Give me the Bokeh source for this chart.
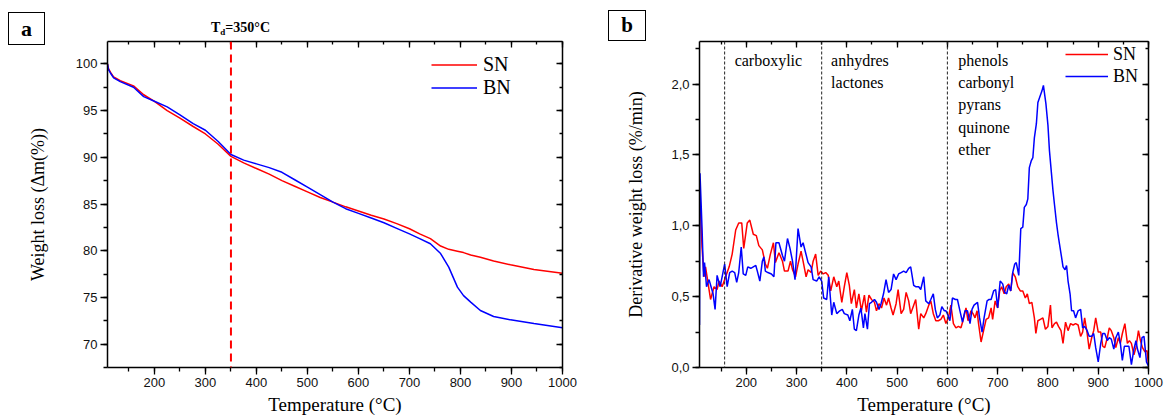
import math
from bokeh.plotting import figure
from bokeh.models import (Range1d, LinearAxis, SingleIntervalTicker, Span, Label, Div,
                          Legend, LegendItem, CustomJSTickFormatter)
from bokeh.layouts import row, column
from bokeh.embed import file_html
from bokeh.resources import INLINE

# ---------------- data: panel a (TGA) ----------------
temp_a = [108, 110, 114, 120, 133, 159, 179, 200, 225, 250, 276, 300, 325, 350, 375,
          400, 425, 450, 475, 500, 525, 550, 575, 600, 625, 650, 675, 700, 720, 741,
          761, 777, 794, 806, 820, 839, 865, 898, 944, 1000]
sn_a = [100.0, 99.5, 99.1, 98.6, 98.2, 97.65, 96.7, 96.0, 95.0, 94.2, 93.3, 92.5, 91.4,
        90.1, 89.4, 88.8, 88.2, 87.5, 86.9, 86.3, 85.7, 85.2, 84.7, 84.25, 83.8, 83.4,
        82.9, 82.35, 81.8, 81.3, 80.5, 80.15, 79.95, 79.8, 79.55, 79.3, 78.9, 78.5,
        78.0, 77.6]
bn_a = [100.0, 99.4, 99.0, 98.5, 98.1, 97.5, 96.5, 96.0, 95.4, 94.55, 93.6, 92.9, 91.7,
        90.3, 89.7, 89.3, 88.9, 88.4, 87.6, 86.8, 86.0, 85.2, 84.5, 84.0, 83.5, 83.0,
        82.4, 81.8, 81.3, 80.75, 79.7, 78.25, 76.1, 75.2, 74.5, 73.6, 72.96, 72.6,
        72.2, 71.75]
td = 350

# ---------------- data: panel b (DTG) ----------------
temp_sn_b = [108, 112, 116, 119, 129, 136, 142, 146, 152, 159, 166, 172, 179, 185, 191,
             195, 202, 207, 214, 220, 225, 232, 238, 242, 248, 254, 258, 265, 272, 276,
             283, 288, 292, 298, 303, 309, 313, 319, 323, 329, 333, 338, 343, 348, 353,
             358, 363, 368, 374, 380, 384, 390, 395, 400, 405, 409, 415, 419, 424, 429,
             435, 439, 444, 449, 455, 459, 464, 469, 474, 479, 483, 488, 492, 498, 502,
             508, 513, 518, 523, 527, 533, 537, 543, 547, 553, 557, 563, 567, 572, 577,
             582, 587, 592, 597, 602, 607, 612, 617, 622, 627, 631, 637, 641, 647, 651,
             655, 659, 662, 667, 672, 677, 682, 687, 690, 695, 700, 704, 708, 713, 717,
             722, 726, 730, 735, 740, 745, 750, 755, 759, 763, 768, 773, 776, 780, 785,
             790, 795, 800, 805, 808, 813, 817, 821, 826, 830, 835, 840, 845, 850, 855,
             860, 865, 869, 873, 878, 882, 887, 891, 895, 900, 905, 909, 913, 918, 922,
             926, 931, 935, 940, 944, 948, 953, 958, 962, 966, 971, 975, 980, 984, 988,
             993, 997, 1000]
sn_b = [1.22, 0.85, 0.64, 0.71, 0.48, 0.57, 0.55, 0.61, 0.57, 0.64, 0.71, 0.80, 0.97, 1.02,
        1.02, 0.84, 1.02, 1.04, 0.94, 0.93, 0.86, 0.83, 0.73, 0.70, 0.80, 0.88, 0.74, 0.81,
        0.75, 0.68, 0.68, 0.75, 0.69, 0.64, 0.73, 0.82, 0.75, 0.64, 0.69, 0.67, 0.75, 0.80,
        0.65, 0.68, 0.66, 0.67, 0.65, 0.54, 0.64, 0.57, 0.61, 0.46, 0.57, 0.67, 0.58, 0.45,
        0.55, 0.42, 0.52, 0.40, 0.51, 0.39, 0.51, 0.48, 0.46, 0.40, 0.45, 0.42, 0.49, 0.44,
        0.49, 0.42, 0.37, 0.45, 0.55, 0.38, 0.41, 0.53, 0.47, 0.38, 0.44, 0.48, 0.27, 0.38,
        0.35, 0.38, 0.44, 0.47, 0.38, 0.33, 0.33, 0.34, 0.37, 0.31, 0.35, 0.44, 0.31, 0.28,
        0.29, 0.28, 0.33, 0.42, 0.33, 0.40, 0.38, 0.35, 0.40, 0.31, 0.18, 0.26, 0.34, 0.35,
        0.42, 0.34, 0.47, 0.42, 0.54, 0.57, 0.52, 0.57, 0.59, 0.54, 0.67, 0.64, 0.57, 0.54,
        0.54, 0.49, 0.52, 0.45, 0.46, 0.35, 0.24, 0.33, 0.34, 0.35, 0.27, 0.29, 0.44, 0.28,
        0.31, 0.32, 0.29, 0.26, 0.17, 0.32, 0.26, 0.31, 0.30, 0.31, 0.30, 0.22, 0.25, 0.35,
        0.24, 0.13, 0.21, 0.26, 0.35, 0.25, 0.25, 0.15, 0.14, 0.21, 0.28, 0.26, 0.21, 0.14,
        0.21, 0.17, 0.24, 0.31, 0.17, 0.19, 0.17, 0.09, 0.14, 0.26, 0.19, 0.14, 0.11, 0.12,
        0.02]
temp_bn_b = [107, 108, 112, 115, 117, 121, 126, 130, 134, 138, 142, 148, 152, 157, 162,
             167, 172, 177, 181, 185, 190, 194, 199, 203, 209, 214, 219, 222, 227, 232,
             235, 238, 243, 250, 255, 259, 265, 272, 276, 282, 287, 292, 297, 303, 309,
             313, 318, 323, 329, 333, 340, 345, 350, 354, 360, 364, 370, 374, 380, 386,
             391, 395, 402, 406, 411, 415, 419, 424, 428, 433, 436, 441, 445, 449, 455,
             459, 464, 468, 473, 478, 483, 488, 493, 498, 503, 508, 513, 518, 523, 527,
             533, 537, 543, 547, 553, 557, 563, 567, 572, 576, 580, 585, 589, 594, 597,
             600, 605, 610, 616, 620, 625, 630, 635, 640, 645, 649, 653, 660, 664, 669,
             673, 679, 683, 687, 692, 696, 700, 705, 710, 714, 718, 722, 726, 730, 734,
             737, 742, 746, 750, 753, 757, 760, 763, 767, 770, 773, 777, 780, 785, 788,
             791, 796, 800, 803, 807, 810, 813, 817, 820, 823, 827, 830, 834, 837, 840,
             844, 847, 851, 855, 860, 865, 869, 873, 878, 882, 887, 891, 895, 900, 905,
             909, 913, 918, 922, 926, 931, 935, 940, 944, 948, 952, 956, 961, 966, 971,
             975, 978, 983, 987, 991, 996, 1000]
bn_b = [0.30, 1.37, 0.99, 0.64, 0.74, 0.57, 0.62, 0.57, 0.52, 0.41, 0.65, 0.57, 0.64, 0.73,
        0.57, 0.67, 0.68, 0.67, 0.60, 0.67, 0.85, 0.66, 0.65, 0.71, 0.70, 0.71, 0.72, 0.68,
        0.61, 0.75, 0.78, 0.68, 0.67, 0.66, 0.64, 0.88, 0.88, 0.79, 0.75, 0.91, 0.84, 0.75,
        0.62, 0.98, 0.85, 0.88, 0.81, 0.74, 0.71, 0.62, 0.61, 0.64, 0.61, 0.49, 0.48, 0.64,
        0.37, 0.46, 0.38, 0.40, 0.41, 0.38, 0.37, 0.33, 0.41, 0.27, 0.26, 0.37, 0.42, 0.28,
        0.38, 0.27, 0.45, 0.46, 0.48, 0.46, 0.41, 0.45, 0.52, 0.62, 0.53, 0.55, 0.66, 0.62,
        0.66, 0.67, 0.68, 0.67, 0.70, 0.71, 0.58, 0.57, 0.57, 0.55, 0.64, 0.47, 0.45, 0.48,
        0.52, 0.41, 0.35, 0.37, 0.43, 0.40, 0.40, 0.38, 0.33, 0.49, 0.48, 0.48, 0.40, 0.32,
        0.40, 0.40, 0.31, 0.41, 0.44, 0.46, 0.35, 0.25, 0.35, 0.47, 0.48, 0.48, 0.54, 0.55,
        0.42, 0.61, 0.59, 0.53, 0.52, 0.58, 0.54, 0.67, 0.73, 0.74, 0.65, 0.98, 0.99, 1.13,
        1.15, 1.19, 1.41, 1.46, 1.48, 1.62, 1.72, 1.87, 1.92, 1.95, 1.99, 1.86, 1.71, 1.53,
        1.37, 1.25, 1.15, 1.02, 0.94, 0.87, 0.78, 0.71, 0.69, 0.72, 0.61, 0.52, 0.40, 0.40,
        0.35, 0.40, 0.41, 0.28, 0.29, 0.26, 0.22, 0.22, 0.24, 0.14, 0.04, 0.17, 0.24, 0.24,
        0.19, 0.21, 0.20, 0.13, 0.21, 0.25, 0.17, 0.05, 0.15, 0.15, 0.15, 0.02, 0.13, 0.19,
        0.13, 0.07, 0.21, 0.22, 0.04, 0.01]
boundaries = [157, 350, 600]
regions = [["carboxylic"], ["anhydres", "lactones"],
           ["phenols", "carbonyl", "pyrans", "quinone", "ether"]]
series_names = ["SN", "BN"]
panel_letters = ["a", "b"]

SERIF = "Liberation Serif"
SANS = "Liberation Sans"
RED = "#ff0000"
BLUE = "#0000ff"


def make_axis(interval, labeled, label="", label_size="19px", label_standoff=0, fmt=None):
    ax = LinearAxis(ticker=SingleIntervalTicker(interval=interval, num_minor_ticks=2))
    ax.axis_line_color = "black"
    ax.axis_line_width = 1.5
    ax.major_tick_line_color = "black"
    ax.major_tick_line_width = 1.3
    ax.minor_tick_line_color = "black"
    ax.minor_tick_line_width = 1.3
    if labeled:
        ax.major_tick_out = 7
        ax.major_tick_in = 0
        ax.minor_tick_out = 4
        ax.minor_tick_in = 0
        ax.major_label_text_font = SANS
        ax.major_label_text_font_size = "13px"
        ax.major_label_text_color = "#111111"
        ax.major_label_standoff = 3
        ax.axis_label = label
        ax.axis_label_text_font = SERIF
        ax.axis_label_text_font_style = "normal"
        ax.axis_label_text_font_size = label_size
        ax.axis_label_text_color = "black"
        ax.axis_label_standoff = label_standoff
        if fmt is not None:
            ax.formatter = fmt
    else:
        # mirrored frame edge: inward ticks only, no tick labels
        ax.major_tick_out = 0
        ax.major_tick_in = 6
        ax.minor_tick_out = 0
        ax.minor_tick_in = 3
        ax.formatter = CustomJSTickFormatter(code="return '';")
        ax.major_label_text_font_size = "0px"
        ax.major_label_standoff = 0
    return ax


def base_figure(width, xr, yr, left, right):
    p = figure(width=width, height=419, x_range=xr, y_range=yr,
               x_axis_type=None, y_axis_type=None,
               output_backend="svg", toolbar_location=None,
               min_border_left=left, min_border_right=right,
               min_border_top=41, min_border_bottom=52)
    p.outline_line_color = None
    p.background_fill_color = "white"
    p.border_fill_alpha = 0
    return p


# ================= panel a =================
pa = base_figure(590, Range1d(108, 1000), Range1d(67.5, 102.4), 107, 28)
pa.add_layout(make_axis(100, True, "Temperature (°C)", "19px", 4), "below")
pa.add_layout(make_axis(5, True, "Weight loss (Δm(%))", "18px", 25), "left")
pa.add_layout(make_axis(100, False), "above")
pa.add_layout(make_axis(5, False), "right")

ra1 = pa.line(temp_a, sn_a, line_color=RED, line_width=1.5)
ra2 = pa.line(temp_a, bn_a, line_color=BLUE, line_width=1.5)
pa.add_layout(Span(location=td, dimension="height", line_color=RED,
                   line_dash="8 5", line_width=2))

leg_a = Legend(items=[LegendItem(label=series_names[0], renderers=[ra1]),
                      LegendItem(label=series_names[1], renderers=[ra2])],
               location=(324, 268), glyph_width=46, glyph_height=23, label_height=23,
               spacing=0, padding=0, margin=0, label_standoff=6,
               label_text_font=SERIF, label_text_font_size="20px", label_text_color="black",
               border_line_alpha=0, background_fill_alpha=0)
pa.add_layout(leg_a)

# ================= panel b =================
fmt = CustomJSTickFormatter(code="return tick.toFixed(1).replace('.', ',');")
pb = base_figure(577, Range1d(107, 1000), Range1d(0, 2.3), 109, 19)
pb.add_layout(make_axis(100, True, "Temperature (°C)", "19px", 4), "below")
pb.add_layout(make_axis(0.5, True, "Derivative weight loss (%/min)", "18px", 22, fmt), "left")
pb.add_layout(make_axis(100, False), "above")
pb.add_layout(make_axis(0.5, False), "right")

for b in boundaries:
    pb.add_layout(Span(location=b, dimension="height", line_color="#222222",
                       line_dash="3 2", line_width=1))

rb1 = pb.line(temp_sn_b, sn_b, line_color=RED, line_width=1.5)
rb2 = pb.line(temp_bn_b, bn_b, line_color=BLUE, line_width=1.5)

leg_b = Legend(items=[LegendItem(label=series_names[0], renderers=[rb1]),
                      LegendItem(label=series_names[1], renderers=[rb2])],
               location=(366, 280), glyph_width=43, glyph_height=22, label_height=22,
               spacing=0, padding=0, margin=0, label_standoff=5,
               label_text_font=SERIF, label_text_font_size="18px", label_text_color="black",
               border_line_alpha=0, background_fill_alpha=0)
pb.add_layout(leg_b)

region_x = [176.9, 368.7, 621.8]
line_y = [2.166, 2.013, 1.856, 1.695, 1.538]
for rx, words in zip(region_x, regions):
    for j, w in enumerate(words):
        pb.add_layout(Label(x=rx, y=line_y[j], text=w, text_font=SERIF,
                            text_font_size="16px", text_baseline="alphabetic",
                            text_color="black"))

# ================= header texts (outside the plot frames) =================
header_html = (
    '<div style="position:relative;width:1167px;height:41px;'
    "font-family:'Liberation Serif',serif;color:#000;\">"
    '<div style="position:absolute;left:8px;top:12px;width:37px;height:33px;'
    'border:1.5px solid #000;text-align:center;font-weight:bold;font-size:22px;'
    'line-height:32px;">%s</div>'
    '<div style="position:absolute;left:211px;top:20px;font-weight:bold;font-size:14px;'
    'line-height:16px;white-space:nowrap;">T<span style="font-size:9px;position:relative;'
    'top:3px;">d</span>=%d°C</div>'
    '<div style="position:absolute;left:608px;top:10px;width:38px;height:31px;'
    'border:1.5px solid #000;text-align:center;font-weight:bold;font-size:21px;'
    'line-height:28px;">%s</div>'
    '</div>'
) % (panel_letters[0], td, panel_letters[1])
header = Div(text=header_html, width=1167, height=41, margin=(0, 0, -41, 0),
             styles={"overflow": "visible", "z-index": "2"})

layout = column(header, row(pa, pb))
open("out.html", "w").write(file_html(layout, INLINE))
